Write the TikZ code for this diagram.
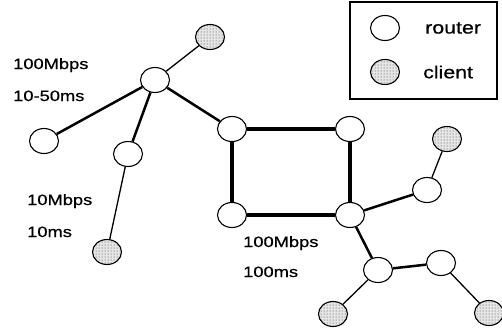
\documentclass[tikz,border=0pt]{standalone}
\usepackage{fontspec}
\newfontfamily\netfont[FakeStretch=1.22,FakeBold=0.6]{Liberation Sans}
\usetikzlibrary{shapes.geometric,patterns}
\tikzset{
	router/.style={ellipse, draw, line width=1.1pt, fill=white, minimum width=29pt, minimum height=25pt, inner sep=0pt},
	client/.style={ellipse, draw, line width=1.1pt, preaction={fill=gray!20}, pattern=dots, pattern color=black!75, minimum width=29pt, minimum height=25pt, inner sep=0pt},
	lbl/.style={anchor=base west, inner sep=0pt, font=\netfont\fontsize{15}{18}\selectfont},
	leg/.style={anchor=west, inner sep=0pt, font=\netfont\fontsize{17.5}{20}\selectfont},
	core/.style={line width=3.2pt},
	trunk/.style={line width=2.5pt},
	access/.style={line width=1.3pt}
}

\begin{document}
\begin{tikzpicture}[x=1pt, y=-1pt]
	\useasboundingbox (0,0) rectangle (502,332);
	% legend
	\draw [line width=1.4pt] (350,2) rectangle (497,99);
	\node [router] (legr) at (385,28) {};
	\node [client] (legc) at (385,72) {};
	\node [leg] (legrt) at (425,28) {router};
	\node [leg] (legct) at (423,72) {client};

	% left tree
	\node [router] (ra) at (155,80) {};
	\node [client] (ca) at (210,37) {};
	\node [router] (rb) at (44,141) {};
	\node [router] (rc) at (128,154) {};
	\node [client] (cb) at (107,252) {};

	% core square
	\node [router] (sqtl) at (232,129) {};
	\node [router] (sqtr) at (350,129) {};
	\node [router] (sqbl) at (232,215) {};
	\node [router] (sqbr) at (350,215) {};

	% right tree
	\node [router] (rd) at (427,190) {};
	\node [client] (cc) at (447,139) {};
	\node [router] (re) at (378,270) {};
	\node [router] (rf) at (441,263) {};
	\node [client] (cd) at (333,314) {};
	\node [client] (ce) at (489,313) {};

	% link labels
	\node [lbl] (bwa) at (13,69) {100Mbps};
	\node [lbl] (dla) at (13,101) {10-50ms};
	\node [lbl] (bwb) at (27,205) {10Mbps};
	\node [lbl] (dlb) at (27,237) {10ms};
	\node [lbl] (bwc) at (243,247) {100Mbps};
	\node [lbl] (dlc) at (243,277) {100ms};

	% links
	\draw [core] (sqtl) -- (sqtr) -- (sqbr) -- (sqbl) -- (sqtl);
	\draw [trunk] (ra) -- (sqtl);
	\draw [trunk] (ra) -- (rb);
	\draw [trunk] (ra) -- (rc);
	\draw [access] (ra) -- (ca);
	\draw [access] (rc) -- (cb);
	\draw [trunk] (sqbr) -- (rd);
	\draw [access] (rd) -- (cc);
	\draw [trunk] (sqbr) -- (re);
	\draw [trunk] (re) -- (rf);
	\draw [access] (re) -- (cd);
	\draw [access] (rf) -- (ce);
\end{tikzpicture}
\end{document}
